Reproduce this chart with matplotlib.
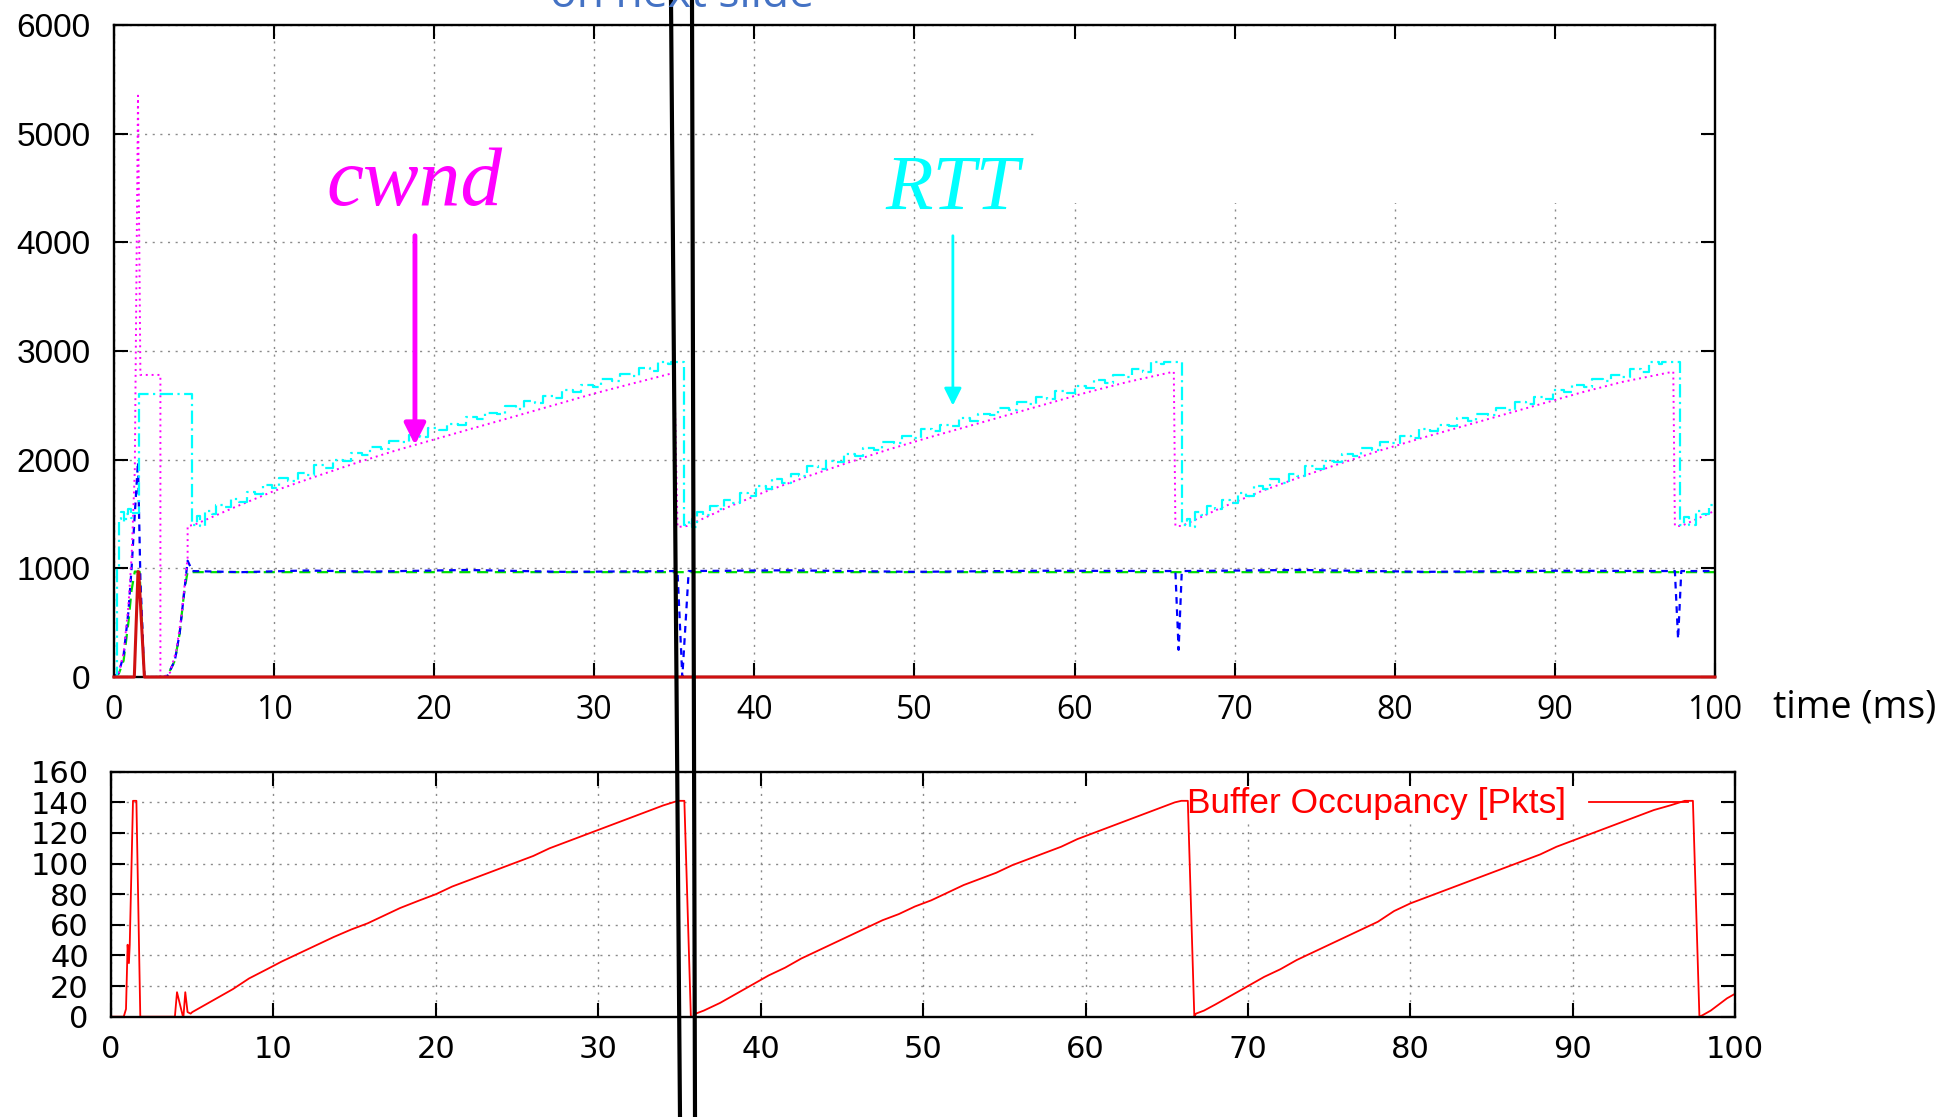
import matplotlib
matplotlib.use('Agg')
import matplotlib.pyplot as plt
from matplotlib.lines import Line2D
from matplotlib.patches import Rectangle

# ---- top panel traces, time in ms ----
red_top = [(0, 0), (1.27, 0), (1.5, 970), (1.55, 960), (1.9, 0), (100, 0)]

green_top = [(0, 0), (0.3, 30), (0.6, 150), (0.9, 500), (1.1, 800), (1.3, 970), (1.6, 970),
             (1.9, 0), (3.3, 0), (3.8, 150), (4.1, 400), (4.4, 800), (4.6, 970), (4.8, 965),
             (100, 965)]

blue_top = [(0, 0), (0.3, 40), (0.6, 200), (0.9, 600), (1.1, 1000), (1.3, 1500), (1.5, 1980),
            (1.65, 900), (1.9, 0), (3.3, 0), (3.8, 150), (4.1, 400), (4.4, 800), (4.6, 1070),
            (4.9, 975), (8, 965), (12, 980), (16, 970), (22, 985), (28, 968), (35.2, 975),
            (35.5, 0), (35.9, 975), (42, 982), (50, 968), (58, 978), (66.3, 975), (66.5, 250),
            (66.7, 975), (74, 985), (82, 968), (90, 978), (97.5, 975), (97.7, 350), (97.9, 975),
            (100, 975)]

cwnd = [(0, 0), (0.3, 40), (0.6, 220), (0.9, 650), (1.1, 1100), (1.3, 1900), (1.5, 5350),
        (1.65, 2780), (2.9, 2780), (2.9, 0), (3.1, 0), (3.5, 40), (3.9, 250), (4.2, 550),
        (4.45, 900), (4.6, 1100), (4.6, 1390),
        (5, 1400), (7.5, 1560), (10, 1712), (12.5, 1840), (15, 1964), (17.5, 2080), (20, 2186),
        (22.5, 2292), (25, 2397), (27.5, 2503), (30, 2609), (32.5, 2705), (35.0, 2800),
        (35.2, 1380), (35.8, 1390), (38.3, 1560), (40.8, 1712), (43.3, 1845), (45.8, 1970),
        (48.3, 2090), (50.8, 2200), (53.3, 2305), (55.8, 2410), (58.3, 2515), (60.8, 2620),
        (63.3, 2715), (66.2, 2810),
        (66.3, 1390), (66.7, 1390), (69.2, 1560), (71.7, 1712), (74.2, 1845), (76.7, 1970),
        (79.2, 2090), (81.7, 2200), (84.2, 2305), (86.7, 2410), (89.2, 2515), (91.7, 2620),
        (94.2, 2715), (97.4, 2810),
        (97.5, 1390), (97.9, 1390), (100, 1530)]

rtt_start = [(0, 0), (0.22, 1000), (0.3, 1450), (0.45, 1520), (0.6, 1430), (0.75, 1500),
             (0.9, 1550), (1.05, 1460), (1.2, 1510), (1.55, 2600), (4.9, 1400)]

rtt_c1 = [(5.2, 1480), (5.4, 1390), (5.7, 1530), (6.1, 1500), (6.4, 1580), (6.9, 1560),
          (7.3, 1640), (7.8, 1610), (8.3, 1700), (8.8, 1680), (9.3, 1770), (9.9, 1740),
          (10.3, 1830), (10.9, 1800), (11.5, 1880), (12.0, 1860), (12.5, 1950), (13.2, 1920),
          (13.7, 2000), (14.3, 1990), (14.8, 2060), (15.5, 2040), (16.0, 2120), (16.7, 2100),
          (17.2, 2170), (17.9, 2160), (18.4, 2230), (19.1, 2210), (19.6, 2290), (20.3, 2270),
          (20.8, 2330), (21.5, 2320), (22.0, 2390), (22.7, 2370), (23.2, 2430), (23.9, 2420),
          (24.4, 2490), (25.1, 2470), (25.6, 2540), (26.3, 2520), (26.8, 2590), (27.5, 2570),
          (28.0, 2640), (28.7, 2620), (29.2, 2690), (29.9, 2670), (30.4, 2740), (31.1, 2720),
          (31.6, 2790), (32.3, 2770), (32.8, 2840), (33.5, 2820), (34.0, 2900), (34.6, 2880),
          (34.8, 2900), (35.6, 1400)]

rtt_c2 = [(35.9, 1450), (36.1, 1380), (36.4, 1520), (36.8, 1490), (37.2, 1570), (37.7, 1550),
          (38.1, 1630), (38.6, 1600), (39.1, 1690), (39.6, 1670), (40.1, 1760), (40.7, 1730),
          (41.1, 1820), (41.7, 1790), (42.3, 1870), (42.8, 1850), (43.3, 1940), (44.0, 1910),
          (44.5, 1990), (45.1, 1980), (45.6, 2050), (46.3, 2030), (46.8, 2110), (47.5, 2090),
          (48.0, 2160), (48.7, 2150), (49.2, 2220), (49.9, 2200), (50.4, 2280), (51.1, 2260),
          (51.6, 2320), (52.3, 2310), (52.8, 2380), (53.5, 2360), (54.0, 2420), (54.7, 2410),
          (55.2, 2480), (55.9, 2460), (56.4, 2530), (57.1, 2510), (57.6, 2580), (58.3, 2560),
          (58.8, 2630), (59.5, 2610), (60.0, 2680), (60.7, 2660), (61.2, 2730), (61.9, 2710),
          (62.4, 2780), (63.1, 2760), (63.6, 2830), (64.3, 2810), (64.8, 2900), (65.4, 2880),
          (65.6, 2900), (66.7, 1400)]

rtt_c3 = [(67.0, 1450), (67.2, 1380), (67.5, 1520), (67.9, 1490), (68.3, 1570), (68.8, 1550),
          (69.2, 1630), (69.7, 1600), (70.2, 1690), (70.7, 1670), (71.2, 1760), (71.8, 1730),
          (72.2, 1820), (72.8, 1790), (73.4, 1870), (73.9, 1850), (74.4, 1940), (75.1, 1910),
          (75.6, 1990), (76.2, 1980), (76.7, 2050), (77.4, 2030), (77.9, 2110), (78.6, 2090),
          (79.1, 2160), (79.8, 2150), (80.3, 2220), (81.0, 2200), (81.5, 2280), (82.2, 2260),
          (82.7, 2320), (83.4, 2310), (83.9, 2380), (84.6, 2360), (85.1, 2420), (85.8, 2410),
          (86.3, 2480), (87.0, 2460), (87.5, 2530), (88.2, 2510), (88.7, 2580), (89.4, 2560),
          (89.9, 2640), (90.6, 2620), (91.1, 2690), (91.8, 2670), (92.3, 2740), (93.0, 2720),
          (93.5, 2780), (94.2, 2760), (94.7, 2830), (95.4, 2810), (95.9, 2900), (96.5, 2880),
          (96.7, 2900), (97.8, 1400), (98.1, 1470), (98.4, 1400), (98.8, 1530), (99.2, 1500),
          (99.6, 1580), (100, 1580)]

# ---- bottom panel: buffer occupancy [pkts] ----
buffer_occ = [(0, 0), (0.78, 0), (0.92, 5), (1.02, 47), (1.1, 35), (1.15, 47), (1.35, 141),
              (1.56, 141), (1.8, 0), (3.93, 0), (4.06, 16), (4.45, -1), (4.57, 16), (4.71, 3),
              (4.9, 2), (5.0, 3), (5.5, 6), (6.5, 12), (7.5, 18), (8.5, 25), (9.6, 31),
              (10.5, 36), (11.7, 42), (12.7, 47), (13.7, 52), (14.8, 57), (15.8, 61), (16.8, 66),
              (17.8, 71), (19, 76), (20, 80), (21, 85), (22, 89), (23, 93), (24, 97), (25, 101),
              (26, 105), (27, 110), (28, 114), (29, 118), (30, 122), (31, 126), (32, 130),
              (33, 134), (34, 138), (34.9, 141), (35.3, 141), (35.7, 0), (35.9, 0),
              (36.0, 2), (36.5, 4), (37.5, 9), (38.5, 15), (39.5, 21), (40.5, 27), (41.5, 32),
              (42.5, 38), (43.5, 43), (44.5, 48), (45.5, 53), (46.5, 58), (47.5, 63), (48.5, 67),
              (49.5, 72), (50.5, 76), (51.5, 81), (52.5, 86), (53.5, 90), (54.5, 94), (55.5, 99),
              (56.5, 103), (57.5, 107), (58.5, 111), (59.5, 116), (60.5, 120), (61.5, 124),
              (62.5, 128), (63.5, 132), (64.5, 136), (65.5, 140), (65.9, 141), (66.3, 141),
              (66.7, 0), (66.8, 2), (67.3, 4), (68, 8), (69, 14), (70, 20), (71, 26), (72, 31),
              (73, 37), (74, 42), (75, 47), (76, 52), (77, 57), (78, 62), (79, 69), (80, 74),
              (81, 78), (82, 82), (83, 86), (84, 90), (85, 94), (86, 98), (87, 102), (88, 106),
              (89, 111), (90, 115), (91, 119), (92, 123), (93, 127), (94, 131), (95, 135),
              (96, 138), (96.9, 141), (97.4, 141), (97.8, 0), (98.0, 1), (98.5, 4), (99, 8),
              (99.5, 12), (100, 15)]

x_ticks = list(range(0, 101, 10))
top_yticks = list(range(0, 6001, 1000))
bot_yticks = list(range(0, 161, 20))

grid_style = dict(color='#8a8a8a', linestyle=(0, (1.5, 4)), linewidth=1.0)


def xy(pts):
    return [p[0] for p in pts], [p[1] for p in pts]


def frame(ax, xfont, xsize, yfont, ysize, xpad, ypad):
    ax.set_xlim(0, 100)
    ax.set_xticks(x_ticks)
    ax.grid(True, **grid_style)
    ax.set_axisbelow(True)
    ax.tick_params(direction='in', top=True, right=True, length=10, width=1.5)
    ax.tick_params(axis='x', pad=xpad, labelsize=xsize)
    ax.tick_params(axis='y', pad=ypad, labelsize=ysize)
    for s in ax.spines.values():
        s.set_linewidth(1.7)
    for lab in ax.get_xticklabels():
        lab.set_fontfamily(xfont)
    for lab in ax.get_yticklabels():
        lab.set_fontfamily(yfont)


fig = plt.figure(figsize=(19.45, 11.17), dpi=100)
ax1 = fig.add_axes([0.0586, 0.3939, 0.8231, 0.5837])
ax2 = fig.add_axes([0.0571, 0.0898, 0.8350, 0.2193])

# top panel
ax1.set_ylim(0, 6000)
ax1.set_yticks(top_yticks)
frame(ax1, 'Open Sans', 23, 'Liberation Sans', 24, 12, 17)

x, y = xy(green_top)
ax1.plot(x, y, color='#00e000', lw=1.6, linestyle=(0, (5, 3)))
x, y = xy(blue_top)
ax1.plot(x, y, color='#0000ff', lw=1.6, linestyle=(0, (3, 2.5)))
x, y = xy(cwnd)
ax1.plot(x, y, color='#ff00ff', lw=1.4, linestyle=(0, (1, 2)))
x, y = xy(rtt_start + rtt_c1 + rtt_c2 + rtt_c3)
ax1.plot(x, y, color='#00ffff', lw=1.6, linestyle=(0, (6, 2, 1, 2)), drawstyle='steps-post')
x, y = xy(red_top)
ax1.plot(x, y, color='#d01010', lw=2.2, clip_on=False, zorder=3)

# blank area where the old key sat
ax1.add_patch(Rectangle((57.7, 4362), 41.4, 1498, facecolor='white', edgecolor='none', zorder=1))

ax1.text(18.8, 4346, 'cwnd', color='#ff00ff', fontsize=60, style='italic',
         family='Liberation Serif', ha='center', va='baseline')
ax1.annotate('', xy=(18.8, 2135), xytext=(18.8, 4061),
             arrowprops=dict(arrowstyle='-|>', color='#ff00ff', lw=3.5, mutation_scale=32,
                             shrinkA=0, shrinkB=0))
ax1.text(52.4, 4312, 'RTT', color='#00ffff', fontsize=56, style='italic',
         family='Liberation Serif', ha='center', va='baseline')
ax1.annotate('', xy=(52.4, 2498), xytext=(52.4, 4061),
             arrowprops=dict(arrowstyle='-|>', color='#00ffff', lw=2.0, mutation_scale=26,
                             shrinkA=0, shrinkB=0))

fig.text(0.9116, 0.3581, 'time (ms)', fontsize=27, family='Open Sans', va='baseline')

# bottom panel
ax2.set_ylim(0, 160)
ax2.set_yticks(bot_yticks)
frame(ax2, 'DejaVu Sans', 22, 'DejaVu Sans', 22, 13, 16)

x, y = xy(buffer_occ)
ax2.plot(x, y, color='#ff0000', lw=1.3)
ax2.add_patch(Rectangle((59.5, 128.4), 39.6, 22.5, facecolor='white', edgecolor='none', zorder=1))
ax2.text(89.6, 133.2, 'Buffer Occupancy [Pkts]', color='#ff0000', fontsize=25.5,
         family='Liberation Sans', ha='right', va='baseline')
ax2.plot([91.0, 97.1], [140.4, 140.4], color='#ff0000', lw=1.3)

# hand-drawn marker lines crossing both panels
fig.add_artist(Line2D([671 / 1945, 680 / 1945], [1, 0], color='black', lw=3.0))
fig.add_artist(Line2D([692 / 1945, 695 / 1945], [1, 0], color='black', lw=3.0))

fig.text(550 / 1945, 1 - 7 / 1117, 'on next slide', color='#4472c4', fontsize=32,
         family='Open Sans', va='baseline')

fig.savefig('out.png', dpi=100)
